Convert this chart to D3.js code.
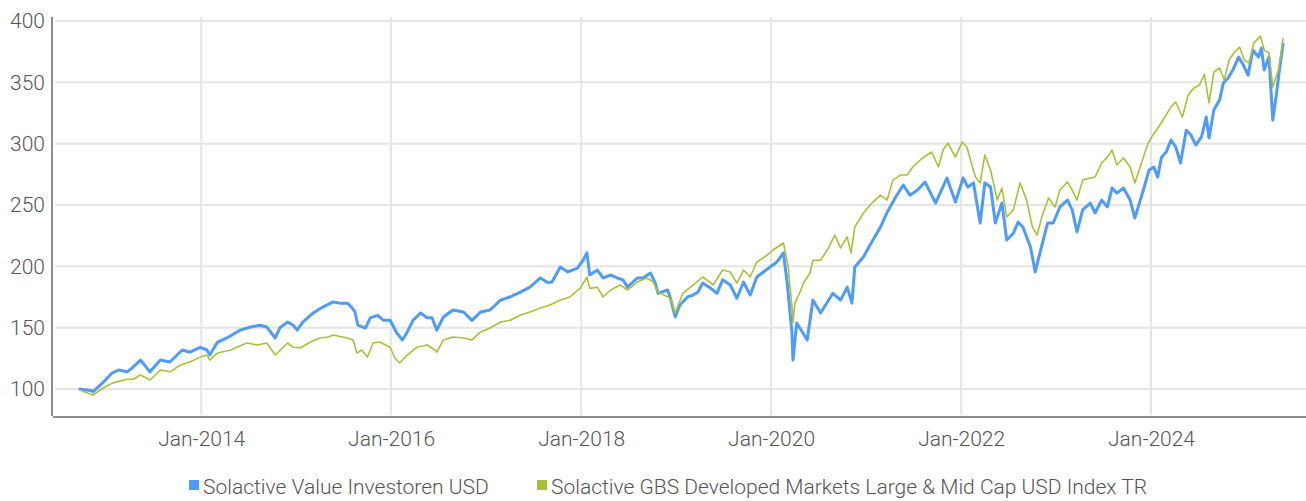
<!DOCTYPE html>
<html>
<head>
<meta charset="utf-8">
<script src="https://cdn.jsdelivr.net/npm/d3@7"></script>
<style>
  body { margin: 0; background: #fff; }
  svg text { font-family: Roboto, "Noto Sans", sans-serif; font-weight: 300; fill: #555; }
</style>
</head>
<body>
<div id="chart"></div>
<script>
"use strict"

// Series names as shown in the legend
const seriesNames = ["Solactive Value Investoren USD",
  "Solactive GBS Developed Markets Large & Mid Cap USD Index TR"];
const seriesColors = ["#4e9cf8", "#a9c13a"];

// Solactive Value Investoren USD (decimal year, index level)
const valueYears = [2012.71, 2012.85, 2012.86, 2012.97, 2013.06, 2013.13, 2013.22, 2013.27, 2013.36, 2013.46,
  2013.57, 2013.67, 2013.80, 2013.88, 2013.99, 2014.06, 2014.09, 2014.17, 2014.27, 2014.41,
  2014.52, 2014.62, 2014.69, 2014.78, 2014.83, 2014.91, 2014.97, 2015.01, 2015.07, 2015.18,
  2015.28, 2015.39, 2015.46, 2015.54, 2015.59, 2015.62, 2015.65, 2015.73, 2015.78, 2015.86,
  2015.92, 2015.99, 2016.06, 2016.12, 2016.17, 2016.23, 2016.31, 2016.38, 2016.43, 2016.48,
  2016.55, 2016.65, 2016.76, 2016.85, 2016.94, 2017.04, 2017.15, 2017.25, 2017.36, 2017.46,
  2017.57, 2017.64, 2017.69, 2017.78, 2017.86, 2017.96, 2018.02, 2018.06, 2018.09, 2018.17,
  2018.23, 2018.31, 2018.38, 2018.44, 2018.49, 2018.59, 2018.65, 2018.73, 2018.78, 2018.81,
  2018.91, 2018.94, 2018.99, 2019.04, 2019.12, 2019.18, 2019.23, 2019.28, 2019.36, 2019.43,
  2019.49, 2019.57, 2019.64, 2019.71, 2019.78, 2019.85, 2019.92, 2019.99, 2020.06, 2020.13,
  2020.17, 2020.22, 2020.23, 2020.27, 2020.38, 2020.44, 2020.52, 2020.65, 2020.73, 2020.80,
  2020.85, 2020.88, 2020.97, 2021.04, 2021.15, 2021.22, 2021.31, 2021.39, 2021.46, 2021.54,
  2021.62, 2021.73, 2021.85, 2021.94, 2022.02, 2022.07, 2022.13, 2022.20, 2022.25, 2022.31,
  2022.36, 2022.43, 2022.48, 2022.55, 2022.60, 2022.65, 2022.73, 2022.78, 2022.83, 2022.91,
  2022.97, 2023.04, 2023.12, 2023.17, 2023.22, 2023.28, 2023.36, 2023.41, 2023.48, 2023.54,
  2023.59, 2023.64, 2023.71, 2023.78, 2023.83, 2023.91, 2023.98, 2024.03, 2024.07, 2024.11,
  2024.16, 2024.21, 2024.26, 2024.31, 2024.37, 2024.42, 2024.47, 2024.53, 2024.58, 2024.61,
  2024.66, 2024.72, 2024.76, 2024.81, 2024.86, 2024.92, 2024.97, 2025.02, 2025.07, 2025.13,
  2025.16, 2025.19, 2025.24, 2025.28, 2025.32, 2025.35, 2025.39];
const valueLevels = [100, 98.5, 97.6, 105.7, 113, 115.5, 114, 117, 123.6, 114,
  123.6, 122, 131.8, 130, 134, 131.8, 127.7, 138, 141.6, 148,
  150.5, 152, 150.5, 141.6, 150, 154.6, 152, 148, 154.6, 162,
  166.8, 171, 170, 170, 166, 162.8, 152, 149.7, 158, 160,
  156, 156, 145.6, 140, 146.5, 156, 162, 158, 158, 148,
  158.7, 164.4, 162.8, 156, 162.8, 164.4, 172.5, 175, 179, 183,
  190.5, 187, 187, 199.5, 195.4, 198.6, 205, 211, 193, 197,
  190.5, 193, 190.5, 189, 183, 190.5, 190.5, 194.6, 186.4, 178,
  180.7, 174, 158.7, 168.5, 175, 176.6, 179, 186.4, 182.3, 178,
  189, 184.8, 174, 187.2, 176.6, 191.3, 195.4, 199.5, 203.5, 210.9,
  186.4, 145.6, 123.6, 153.8, 140, 172.5, 162, 178, 172.5, 183,
  170, 199.5, 207.6, 217.4, 232, 244, 256.5, 266.3, 258, 262.2,
  268.7, 251.6, 272, 252.4, 272, 264.7, 268, 235.3, 268, 264.7,
  235.3, 251.6, 221.5, 227, 236, 232, 215.8, 195.4, 210.9, 235.3,
  235.3, 248.4, 254, 246, 228, 246, 251.6, 243.5, 254, 248.4,
  263.8, 259.8, 263.8, 254, 239.4, 259.8, 278.5, 281, 272.8, 289,
  293.2, 303, 297.3, 284.2, 311, 307, 298.9, 305.4, 321.7, 304.6,
  327.4, 335.6, 349.4, 353.5, 360, 370.6, 364.1, 355.9, 376.3, 370.6,
  378, 360, 370.6, 319.3, 341.3, 360, 382];

// Solactive GBS Developed Markets Large & Mid Cap USD Index TR (decimal year, index level)
const gbsYears = [2012.73, 2012.86, 2012.97, 2013.07, 2013.22, 2013.28, 2013.36, 2013.46, 2013.57, 2013.67,
  2013.78, 2013.88, 2013.99, 2014.06, 2014.09, 2014.17, 2014.31, 2014.48, 2014.59, 2014.69,
  2014.78, 2014.91, 2014.97, 2015.04, 2015.15, 2015.25, 2015.34, 2015.39, 2015.54, 2015.60,
  2015.64, 2015.69, 2015.75, 2015.81, 2015.88, 2015.99, 2016.04, 2016.09, 2016.17, 2016.27,
  2016.38, 2016.46, 2016.48, 2016.55, 2016.65, 2016.76, 2016.85, 2016.94, 2017.04, 2017.15,
  2017.25, 2017.36, 2017.46, 2017.57, 2017.67, 2017.78, 2017.88, 2017.99, 2018.06, 2018.09,
  2018.17, 2018.23, 2018.31, 2018.41, 2018.49, 2018.59, 2018.69, 2018.76, 2018.81, 2018.94,
  2018.99, 2019.07, 2019.18, 2019.28, 2019.39, 2019.49, 2019.57, 2019.64, 2019.71, 2019.78,
  2019.85, 2019.96, 2020.02, 2020.13, 2020.18, 2020.22, 2020.23, 2020.25, 2020.31, 2020.34,
  2020.41, 2020.44, 2020.52, 2020.59, 2020.67, 2020.73, 2020.80, 2020.84, 2020.88, 2020.97,
  2021.06, 2021.15, 2021.22, 2021.28, 2021.36, 2021.43, 2021.49, 2021.57, 2021.64, 2021.69,
  2021.76, 2021.81, 2021.86, 2021.94, 2022.01, 2022.06, 2022.09, 2022.15, 2022.20, 2022.25,
  2022.31, 2022.38, 2022.43, 2022.48, 2022.55, 2022.62, 2022.69, 2022.75, 2022.80, 2022.85,
  2022.92, 2022.99, 2023.04, 2023.12, 2023.17, 2023.22, 2023.28, 2023.36, 2023.41, 2023.48,
  2023.54, 2023.59, 2023.64, 2023.71, 2023.78, 2023.83, 2023.91, 2023.97, 2024.02, 2024.08,
  2024.16, 2024.21, 2024.26, 2024.33, 2024.39, 2024.45, 2024.51, 2024.56, 2024.61, 2024.66,
  2024.72, 2024.77, 2024.82, 2024.87, 2024.93, 2024.98, 2025.03, 2025.08, 2025.15, 2025.19,
  2025.24, 2025.28, 2025.34, 2025.39];
const gbsLevels = [99, 95, 101, 105, 108, 108, 111.4, 107.3, 115.5, 114,
  119.6, 122, 126, 127.7, 123.6, 129.3, 131.8, 137.5, 135.9, 137.5,
  127.7, 137.5, 134, 133.4, 138.3, 141.6, 142.4, 144, 141.6, 140,
  129.3, 131.8, 126, 137.5, 138.3, 134, 125.3, 121.2, 127.7, 134,
  135.9, 131.8, 130, 140, 142.4, 141.6, 140, 146.5, 149.7, 154.6,
  156, 160.3, 162.8, 166, 168.5, 172.5, 175, 182.3, 191.3, 182,
  183, 175, 180.7, 184.8, 180.7, 187.2, 190.5, 187.2, 179, 174,
  162, 178, 184.8, 191.3, 184.8, 197, 195.4, 186.4, 197, 191.3,
  203.5, 209.2, 213.3, 219, 199.5, 166.8, 153.8, 170, 180, 186.4,
  194.6, 205, 205, 213.3, 225.5, 215, 224, 211, 232, 243.5,
  251.6, 258, 254, 270.3, 274.4, 274.4, 281, 286.7, 290.8, 293.2,
  281, 294.8, 300.5, 289, 301.4, 297.3, 289, 272.8, 268, 290.8,
  278.5, 254, 263.8, 240.2, 246, 268, 254, 232, 225.5, 240.2,
  255.7, 248.4, 262.2, 268.7, 262.2, 254, 270.3, 272, 272.8, 284.2,
  289, 294.8, 282.6, 288.3, 281, 268, 286.7, 300.5, 307, 313.6,
  323.4, 330, 334, 321.7, 339.7, 345.4, 347.8, 356.7, 333.2, 358.4,
  361.7, 351.9, 368.2, 373.9, 378.8, 368.2, 365.8, 382, 387.7, 376.3,
  373.9, 346.2, 360, 386.1];

const yTicks = [100, 150, 200, 250, 300, 350, 400];
const xTickYears = [2014, 2016, 2018, 2020, 2022, 2024];
const xDomainYears = [2012.44, 2025.63];

window.addEventListener("load", drawChart);

// converts a decimal year like 2014.5 to a Date
function toDate(y) {
  let year = Math.floor(y);
  let start = new Date(year, 0, 1);
  let end = new Date(year + 1, 0, 1);
  return new Date(start.getTime() + (y - year) * (end - start));
}

function drawChart() {
  let width = 1306;
  let height = 501;
  let left = 53, right = 1306, top = 21, bottom = 389;

  let svg = d3.select("#chart")
    .append("svg")
      .attr("width", width)
      .attr("height", height)
      .style("display", "block");

  let x = d3.scaleTime()
    .domain(xDomainYears.map(toDate))
    .range([left, right]);

  let y = d3.scaleLinear()
    .domain([100, 400])
    .range([bottom, top]);

  // horizontal grid
  svg.append("g")
    .selectAll("line")
    .data(yTicks)
    .join("line")
      .attr("x1", left + 2)
      .attr("x2", right)
      .attr("y1", d => y(d))
      .attr("y2", d => y(d))
      .attr("stroke", "#e5e5e5")
      .attr("stroke-width", 2);

  // vertical grid
  svg.append("g")
    .selectAll("line")
    .data(xTickYears)
    .join("line")
      .attr("x1", d => x(toDate(d)))
      .attr("x2", d => x(toDate(d)))
      .attr("y1", 17)
      .attr("y2", 415)
      .attr("stroke", "#e5e5e5")
      .attr("stroke-width", 2);

  // y axis labels
  let yAxis = svg.append("g")
    .attr("transform", `translate(${left},0)`)
    .call(d3.axisLeft(y).tickValues(yTicks).tickSize(0).tickPadding(8));
  yAxis.select(".domain").remove();
  yAxis.selectAll("text").attr("font-size", 21).style("font-family", null);

  // x axis labels
  let xAxis = svg.append("g")
    .attr("transform", `translate(0,417)`)
    .call(d3.axisBottom(x)
      .tickValues(xTickYears.map(toDate))
      .tickFormat(d => "Jan-" + d.getFullYear())
      .tickSize(0).tickPadding(14));
  xAxis.select(".domain").remove();
  xAxis.selectAll("text").attr("font-size", 21).style("font-family", null);

  // axis lines
  svg.append("line")
    .attr("x1", 52).attr("x2", 52).attr("y1", 17).attr("y2", 416)
    .attr("stroke", "#8c8c8c").attr("stroke-width", 2);
  svg.append("line")
    .attr("x1", 53).attr("x2", right).attr("y1", 417).attr("y2", 417)
    .attr("stroke", "#8c8c8c").attr("stroke-width", 2);

  let line = d3.line()
    .x(d => x(toDate(d[0])))
    .y(d => y(d[1]));

  let valueData = d3.zip(valueYears, valueLevels);
  let gbsData = d3.zip(gbsYears, gbsLevels);

  svg.append("path")
    .datum(valueData)
    .attr("d", line)
    .attr("fill", "none")
    .attr("stroke", seriesColors[0])
    .attr("stroke-width", 3)
    .attr("stroke-linejoin", "round");

  svg.append("path")
    .datum(gbsData)
    .attr("d", line)
    .attr("fill", "none")
    .attr("stroke", seriesColors[1])
    .attr("stroke-width", 1.6)
    .attr("stroke-linejoin", "round");

  // legend
  let legendX = [189, 537];
  let legend = svg.append("g");
  seriesNames.forEach((name, i) => {
    legend.append("rect")
      .attr("x", legendX[i]).attr("y", 480)
      .attr("width", 10).attr("height", 10)
      .attr("fill", seriesColors[i]);
    legend.append("text")
      .attr("x", legendX[i] + 14).attr("y", 487)
      .attr("dy", "0.35em")
      .attr("font-size", 21)
      .text(name);
  });
}
</script>
</body>
</html>
